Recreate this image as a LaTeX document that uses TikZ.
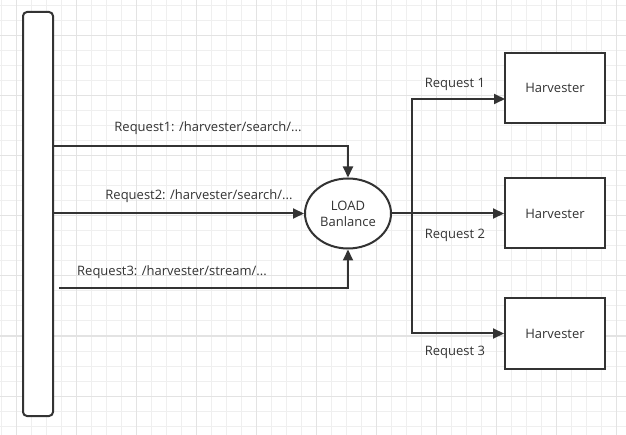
\documentclass[tikz,border=0pt]{standalone}
\usepackage{fontspec}
\setmainfont{Open Sans}
\usetikzlibrary{arrows.meta,shapes.geometric}
\definecolor{ink}{HTML}{333333}
\definecolor{gridminor}{HTML}{EFEFEF}
\definecolor{gridmajor}{HTML}{E3E3E3}
\tikzset{
  box/.style={draw=ink, line width=2pt, fill=white, minimum width=100pt, minimum height=70pt,
    inner sep=0pt, font=\fontsize{13}{15}\selectfont, text=ink},
  client/.style={draw=ink, line width=2pt, fill=white, rounded corners=4pt,
    minimum width=30pt, minimum height=404pt, inner sep=0pt},
  balancer/.style={draw=ink, line width=2pt, fill=white, ellipse, minimum width=86pt,
    minimum height=70pt, inner sep=0pt, align=center, font=\fontsize{13}{16}\selectfont, text=ink},
  flow/.style={draw=ink, line width=2pt, -{Triangle[length=11pt,width=10pt]}},
  lbl/.style={font=\fontsize{13}{15}\selectfont, text=ink, inner sep=0pt}
}
\begin{document}
\begin{tikzpicture}[x=1pt,y=-1pt]
\useasboundingbox (0,0) rectangle (626,435);
\fill[white] (0,0) rectangle (626,435);
% background grid
\foreach \gx in {1,16,...,616} \draw[gridminor, line width=1pt] (\gx,0) -- (\gx,435);
\foreach \gy in {6,21,...,426} \draw[gridminor, line width=1pt] (0,\gy) -- (626,\gy);
\foreach \gx in {16,76,...,616} \draw[gridmajor, line width=1pt] (\gx,0) -- (\gx,435);
\foreach \gy in {36,96,...,426} \draw[gridmajor, line width=1pt] (0,\gy) -- (626,\gy);

% nodes
\node[client] (src) at (38,214) {};
\node[balancer] (lb) at (348,213.5) {LOAD\\Banlance};
\node[box] (h1) at (555,88) {Harvester};
\node[box] (h2) at (555,213.5) {Harvester};
\node[box] (h3) at (555,333.5) {Harvester};

% helper points
\coordinate (r1) at (53,146);
\coordinate (r3) at (59,288);
\coordinate (fork) at (412,213.5);
\coordinate (h1in) at (505,99);

% incoming requests
\draw[flow] (r1) -| (lb.north);
\draw[flow] (src.east |- lb.west) -- (lb.west);
\draw[flow] (r3) -| (lb.south);

% distribution to harvesters
\draw[flow] (lb.east) -- (h2.west);
\draw[flow] (fork) |- (h1in);
\draw[flow] (fork) |- (h3.west);

% labels
\node[lbl] (l1) at (208,128) {Request1: /harvester/search/...};
\node[lbl] (l2) at (199,196) {Request2: /harvester/search/...};
\node[lbl] (l3) at (172,272) {Request3: /harvester/stream/...};
\node[lbl] (q1) at (455,84) {Request 1};
\node[lbl] (q2) at (455,235) {Request 2};
\node[lbl] (q3) at (455,352) {Request 3};
\end{tikzpicture}
\end{document}
